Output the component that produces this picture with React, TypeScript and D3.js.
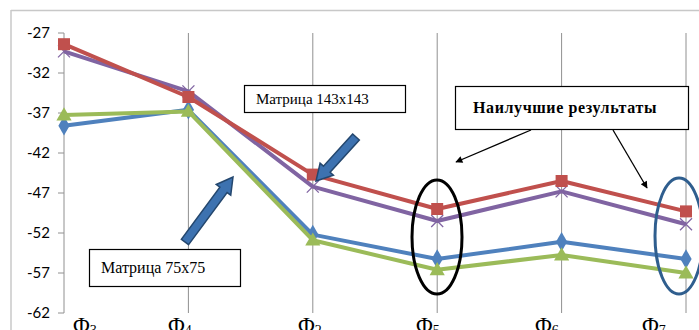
import React from "react";
import * as d3 from "d3";

const categories = ["Φ3", "Φ4", "Φ2", "Φ5", "Φ6", "Φ7"];
const catMain = ["Φ", "Φ", "Φ", "Φ", "Φ", "Φ"];
const catSub = ["3", "4", "2", "5", "6", "7"];
const yTicks = [-27, -32, -37, -42, -47, -52, -57, -62];

const blueSeries = [-38.6, -36.6, -52.2, -55.25, -53.1, -55.25];
const redSeries = [-28.4, -35.0, -44.7, -49.0, -45.5, -49.3];
const greenSeries = [-37.25, -36.8, -52.9, -56.6, -54.75, -57.0];
const purpleSeries = [-29.3, -34.3, -46.2, -50.5, -46.8, -50.9];

const W = 699;
const H = 330;

function blockArrow(x1: number, y1: number, x2: number, y2: number, sw: number, hw: number, hl: number) {
  const dx = x2 - x1, dy = y2 - y1;
  const L = Math.hypot(dx, dy);
  const ux = dx / L, uy = dy / L;
  const nx = -uy, ny = ux;
  const bx = x2 - ux * hl, by = y2 - uy * hl;
  const pts = [
    [x1 + nx * sw / 2, y1 + ny * sw / 2],
    [bx + nx * sw / 2, by + ny * sw / 2],
    [bx + nx * hw / 2, by + ny * hw / 2],
    [x2, y2],
    [bx - nx * hw / 2, by - ny * hw / 2],
    [bx - nx * sw / 2, by - ny * sw / 2],
    [x1 - nx * sw / 2, y1 - ny * sw / 2],
  ];
  return "M" + pts.map((p) => p.join(",")).join("L") + "Z";
}

export default function App() {
  const x = d3.scalePoint<string>().domain(categories).range([64, 686]);
  const y = d3.scaleLinear().domain([-62, -27]).range([313, 33]);
  const line = d3
    .line<number>()
    .x((_, i) => x(categories[i]) as number)
    .y((d) => y(d));

  const labelX = [73, 168, 298, 416, 535, 642];

  const series = [
    { data: blueSeries, color: "#4F81BD", marker: "diamond" },
    { data: greenSeries, color: "#9BBB59", marker: "triangle" },
    { data: purpleSeries, color: "#8064A2", marker: "x" },
    { data: redSeries, color: "#C0504D", marker: "square" },
  ];

  const marker = (m: string, cx: number, cy: number, color: string, key: string) => {
    if (m === "square")
      return <rect key={key} x={cx - 6} y={cy - 6} width={12} height={12} fill={color} />;
    if (m === "diamond") {
      const s = d3.symbol(d3.symbolDiamond, 110)();
      return <path key={key} d={s as string} transform={`translate(${cx},${cy})`} fill={color} />;
    }
    if (m === "triangle") {
      const s = d3.symbol(d3.symbolTriangle, 100)();
      return <path key={key} d={s as string} transform={`translate(${cx},${cy + 1})`} fill={color} />;
    }
    return (
      <g key={key} stroke={color} strokeWidth={1.3}>
        <line x1={cx - 6} y1={cy - 6} x2={cx + 6} y2={cy + 6} />
        <line x1={cx - 6} y1={cy + 6} x2={cx + 6} y2={cy - 6} />
      </g>
    );
  };

  return (
    <svg
      width={W}
      height={H}
      style={{ position: "fixed", left: 0, top: 0, background: "#fff" }}
      fontFamily="'Liberation Serif', serif"
    >
      <rect x={0} y={0} width={W} height={H} fill="#fff" />
      {/* outer chart border */}
      <line x1={11} y1={10.5} x2={W} y2={10.5} stroke="#c8c8c8" strokeWidth={1.5} />
      <line x1={11} y1={10} x2={11} y2={H} stroke="#c8c8c8" strokeWidth={1.5} />

      {/* vertical gridlines */}
      {categories.map((c) => (
        <line key={c} x1={x(c)} x2={x(c)} y1={33} y2={313} stroke="#909090" strokeWidth={1} />
      ))}
      {/* y axis ticks */}
      {yTicks.map((t) => (
        <g key={t}>
          <line x1={58} x2={64} y1={y(t)} y2={y(t)} stroke="#909090" />
          <text x={50} y={y(t)} dy="0.35em" textAnchor="end" fontSize={15} fontFamily="Lato, 'Open Sans', sans-serif" fill="#000">
            {t}
          </text>
        </g>
      ))}

      {/* series */}
      {series.map((s, si) => (
        <g key={si}>
          <path d={line(s.data) as string} fill="none" stroke={s.color} strokeWidth={4} strokeLinejoin="round" />
          {s.data.map((v, i) => marker(s.marker, x(categories[i]) as number, y(v), s.color, `${si}-${i}`))}
        </g>
      ))}

      {/* x labels */}
      {categories.map((c, i) => (
        <text key={c} x={labelX[i]} y={333} fontSize={23} fill="#000">
          {catMain[i]}
          <tspan fontSize={14} dy={2}>{catSub[i]}</tspan>
        </text>
      ))}

      {/* block arrows */}
      <path d={blockArrow(185, 242, 233, 177, 9, 18, 16)} fill="#3D72B0" stroke="#24476E" strokeWidth={1.5} />
      <path d={blockArrow(356, 137, 316, 181, 9, 18, 16)} fill="#3D72B0" stroke="#24476E" strokeWidth={1.5} />

      {/* annotation boxes */}
      <rect x={244.5} y={85.5} width={161} height={27} fill="#fff" stroke="#000" strokeWidth={1.2} />
      <text x={256} y={104} fontSize={15}>Матрица 143x143</text>

      <rect x={89.5} y={249.5} width={151} height={37} fill="#fff" stroke="#000" strokeWidth={1.2} />
      <text x={101} y={273} fontSize={16}>Матрица 75x75</text>

      <rect x={455.5} y={86.5} width={233} height={43} fill="#fff" stroke="#000" strokeWidth={1.2} />
      <text x={473} y={113} fontSize={16} fontWeight="bold" letterSpacing={0.6}>Наилучшие результаты</text>

      {/* thin arrows */}
      <defs>
        <marker id="ah" viewBox="0 0 10 10" refX={9} refY={5} markerWidth={9} markerHeight={7} orient="auto" markerUnits="userSpaceOnUse">
          <path d="M0,0L10,5L0,10Z" fill="#000" />
        </marker>
      </defs>
      <line x1={531} y1={130} x2={456} y2={162} stroke="#000" strokeWidth={1.3} markerEnd="url(#ah)" />
      <line x1={613} y1={130} x2={647} y2={188} stroke="#000" strokeWidth={1.3} markerEnd="url(#ah)" />

      {/* ellipses */}
      <ellipse cx={437} cy={237} rx={25} ry={57} fill="none" stroke="#000" strokeWidth={3} />
      <ellipse cx={679} cy={236} rx={24} ry={58} fill="none" stroke="#2F5E8E" strokeWidth={3} />
    </svg>
  );
}
